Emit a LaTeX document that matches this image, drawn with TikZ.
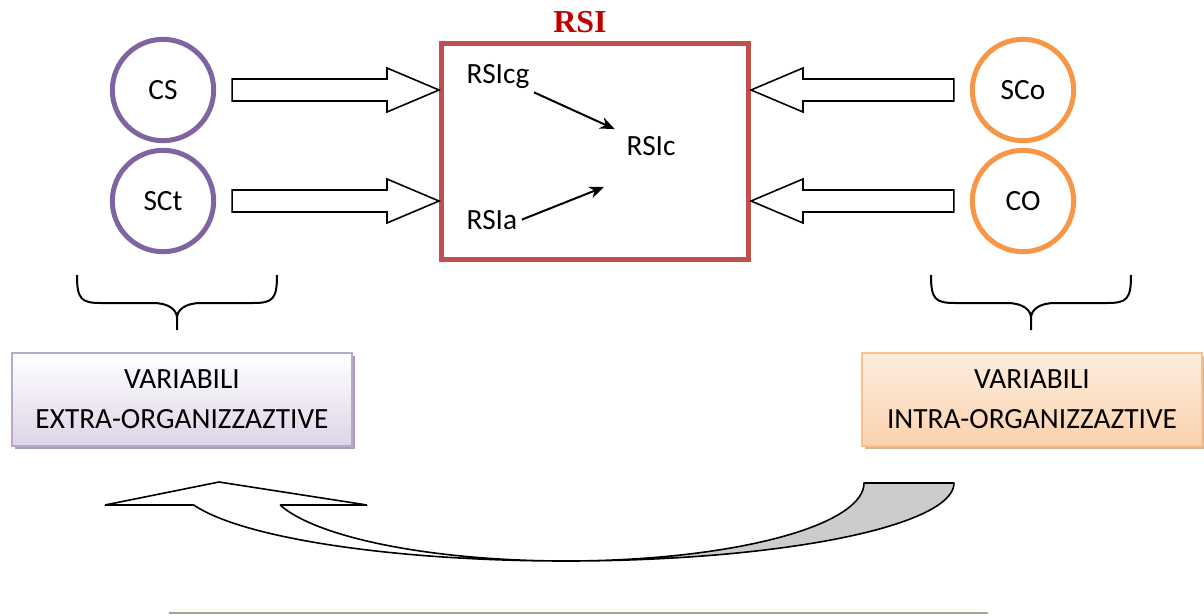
\documentclass[tikz,border=0pt]{standalone}
\usepackage{fontspec}
\setmainfont{Carlito}
\newfontfamily\headfont{Liberation Serif}
\usetikzlibrary{arrows.meta,calc,shadows}

\definecolor{rsired}{HTML}{C0504D}
\definecolor{titlered}{HTML}{C00000}
\definecolor{extpurple}{HTML}{8064A2}
\definecolor{intorange}{HTML}{F79646}
\definecolor{extborder}{HTML}{B9A8CC}
\definecolor{extfill}{HTML}{DDD4E8}
\definecolor{extshadow}{HTML}{AA9CBE}
\definecolor{intborder}{HTML}{FAC090}
\definecolor{intfill}{HTML}{FBD2AE}
\definecolor{intshadow}{HTML}{D8B392}
\definecolor{rulegray}{HTML}{A6A68E}

\tikzset{
  txt/.style={font=\fontsize{22}{30}\selectfont},
  var/.style={txt, draw, circle, line width=3.75pt, minimum size=76pt, inner sep=0pt},
  varbox/.style={txt, draw, line width=1.5pt, minimum width=255pt, minimum height=69.75pt, align=center},
  fatarrow/.style={draw, line width=1.2pt, fill=white,
    to path={let \p1=(\tikztostart), \p2=(\tikztotarget), \n1={(\x2-\x1)/abs(\x2-\x1)} in
      ({\x1},{\y1+8.25pt}) -- ({\x2-\n1*39pt},{\y1+8.25pt}) -- ({\x2-\n1*39pt},{\y1+16.5pt})
      -- ({\x2},{\y1}) -- ({\x2-\n1*39pt},{\y1-16.5pt}) -- ({\x2-\n1*39pt},{\y1-8.25pt})
      -- ({\x1},{\y1-8.25pt}) -- cycle}},
  inarrow/.style={line width=1.5pt, -{Stealth[length=11pt,width=9pt]}},
  bracket/.style={line width=1.5pt, line join=round}
}

\begin{document}
\begin{tikzpicture}[x=0.75pt,y=-0.75pt]
  \useasboundingbox (0,0) rectangle (1204,615);

  % central block
  \node[draw=rsired, line width=3.75pt, minimum width=230.25pt, minimum height=162pt] (rsi) at (595,151.5) {};
  \node[font=\headfont\bfseries\fontsize{24}{28}\selectfont, text=titlered] (rsititle) at (580,22) {RSI};
  \node[txt, anchor=base west] (rsicg) at (462,83) {RSIcg};
  \node[txt, anchor=base west] (rsic) at (622,155) {RSIc};
  \node[txt, anchor=base west] (rsia) at (462,229) {RSIa};
  \coordinate (rsiatip) at (604,187);
  \draw[inarrow, shorten >=6pt] (rsicg) -- (rsic);
  \draw[inarrow] (rsia.east) -- (rsiatip);

  % variables around it
  \node[var, draw=extpurple] (cs)  at (163,90)  {CS};
  \node[var, draw=extpurple] (sct) at (163,201) {SCt};
  \node[var, draw=intorange] (sco) at (1023,90)  {SCo};
  \node[var, draw=intorange] (co)  at (1023,201) {CO};

  \draw[fatarrow] ($(cs.east)+(16,0)$)  to (cs -| rsi.west);
  \draw[fatarrow] ($(sct.east)+(16,0)$) to (sct -| rsi.west);
  \draw[fatarrow] ($(sco.west)+(-16,0)$) to (sco -| rsi.east);
  \draw[fatarrow] ($(co.west)+(-16,0)$)  to (co -| rsi.east);

  % braces under each pair
  \foreach \cx in {177,1031}
  {	\draw[bracket] ({\cx-100},275) .. controls ({\cx-100},299) and ({\cx-96},303) .. ({\cx-76},303)
      -- ({\cx-24},303) .. controls ({\cx-8},303) and ({\cx},310) .. ({\cx},318) -- ({\cx},330);
    \draw[bracket] ({\cx+100},275) .. controls ({\cx+100},299) and ({\cx+96},303) .. ({\cx+76},303)
      -- ({\cx+24},303) .. controls ({\cx+8},303) and ({\cx},310) .. ({\cx},318);
  }

  \node[varbox, draw=extborder, top color=white, bottom color=extfill,
        drop shadow={shadow xshift=2.5pt, shadow yshift=-2.5pt, fill=extshadow, opacity=1}]
        (extvar) at (182,399.5) {VARIABILI\\EXTRA-ORGANIZZAZTIVE};
  \node[varbox, draw=intborder, top color=white!60!intfill, bottom color=intfill,
        drop shadow={shadow xshift=2.5pt, shadow yshift=-2.5pt, fill=intshadow, opacity=1}]
        (intvar) at (1032,399.5) {VARIABILI\\INTRA-ORGANIZZAZTIVE};

  % curved return arrow
  \filldraw[fill=black!20, line width=1.2pt, line join=round]
    plot[domain=90:0, samples=60] ({566+388*cos(\x)},{483+78*sin(\x)})
    -- plot[domain=0:90, samples=60] ({566+298*cos(\x)},{483+78*sin(\x)}) -- cycle;
  \filldraw[fill=white, line width=1.2pt, line join=miter]
    (105,505) -- (219,482) -- (367,505) -- (280,505)
    -- plot[domain=163.6:90, samples=60] ({566+298*cos(\x)},{483+78*sin(\x)})
    -- plot[domain=90:163.6, samples=60] ({566+388*cos(\x)},{483+78*sin(\x)}) -- cycle;

  \draw[rulegray, line width=1.5pt] (169,613) -- (988,613);
\end{tikzpicture}
\end{document}
